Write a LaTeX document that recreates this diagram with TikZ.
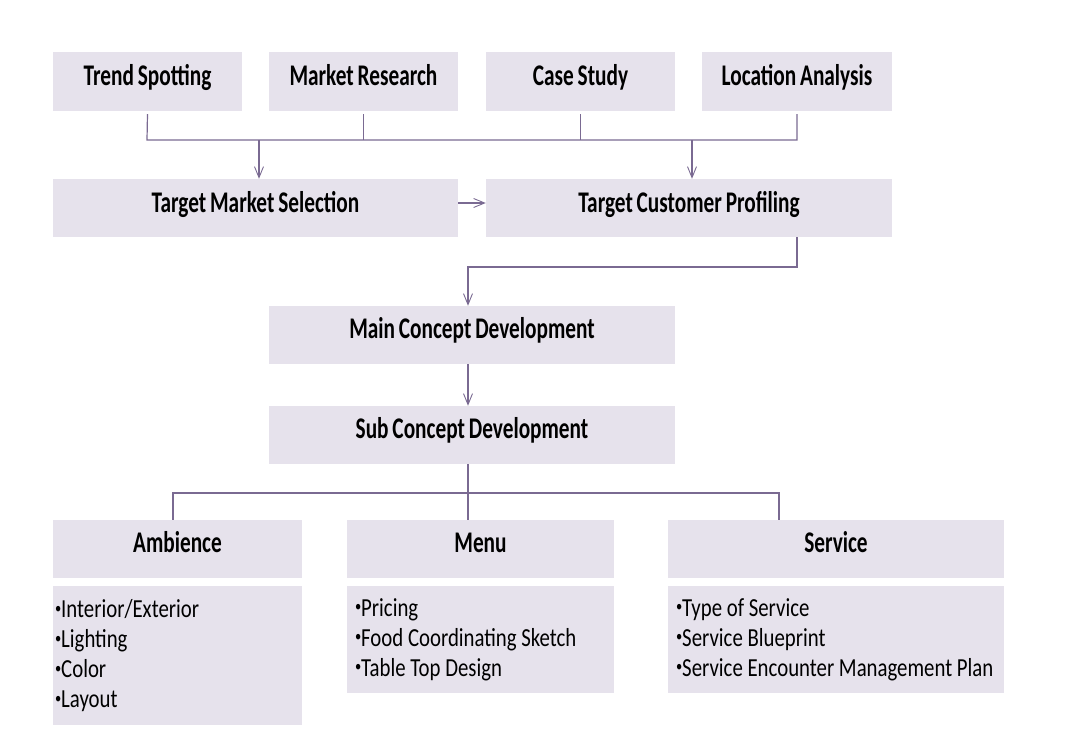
\documentclass[tikz,border=0pt]{standalone}
\usepackage{fontspec}
\usepackage{graphicx}
\setmainfont{Carlito}[FakeStretch=0.80]
\newfontfamily\hfont{Carlito}[FakeStretch=0.71, WordSpace=0.8]
\newcommand\mybul{\raisebox{0.17em}{\scalebox{0.6}{•}}}
\usetikzlibrary{arrows.meta}
\definecolor{boxfill}{RGB}{230,226,236}
\definecolor{linecol}{RGB}{122,106,146}
\tikzset{
  box/.style={fill=boxfill, draw=none, inner sep=0pt, text height=19pt, text depth=13pt,
    font=\hfont\bfseries\fontsize{30}{33}\selectfont},
  toprow/.style={text depth=10pt},
  secrow/.style={text depth=11pt},
  listbox/.style={fill=boxfill, draw=none, inner xsep=8pt, inner ysep=0pt, align=flush left,
    font=\fontsize{26}{30}\selectfont},
  conn/.style={draw=linecol, line width=1.2pt},
  arr/.style={conn, -{Straight Barb[length=11pt,width=9pt,line width=0.9pt]}}
}
\begin{document}
\begin{tikzpicture}[x=1pt,y=-1pt]
\useasboundingbox (0,0) rectangle (1080,749);
% top row
\node[box, toprow, minimum width=189pt, minimum height=59pt] (ts) at (147.5,81.5) {Trend Spotting};
\node[box, toprow, minimum width=189pt, minimum height=59pt] (mr) at (363.5,81.5) {Market Research};
\node[box, toprow, minimum width=189pt, minimum height=59pt] (cs) at (580.5,81.5) {Case Study};
\node[box, toprow, minimum width=190pt, minimum height=59pt] (la) at (797,81.5) {Location Analysis};
% second row
\node[box, secrow, minimum width=405pt, minimum height=58pt] (tms) at (255.5,208) {Target Market Selection};
\node[box, secrow, minimum width=406pt, minimum height=58pt] (tcp) at (689,208) {Target Customer Profiling};
% concept
\node[box, minimum width=406pt, minimum height=58pt] (mcd) at (472,335) {Main Concept Development};
\node[box, minimum width=406pt, minimum height=58pt] (scd) at (472,435) {Sub Concept Development};
% bottom
\node[box, minimum width=249pt, minimum height=58pt] (amb) at (177.5,549) {Ambience};
\node[box, minimum width=267pt, minimum height=58pt] (menu) at (480.5,549) {Menu};
\node[box, minimum width=336pt, minimum height=58pt] (serv) at (836,549) {Service};
\node[listbox, inner xsep=2pt, text width=245pt, minimum height=139pt] (ambl) at (177.5,655.5) {\mybul Interior/Exterior\\\mybul Lighting\\\mybul Color\\\mybul Layout};
\node[listbox, text width=251pt, minimum height=107pt] (menul) at (480.5,639.5) {\mybul Pricing\\\mybul Food Coordinating Sketch\\\mybul Table Top Design};
\node[listbox, text width=320pt, minimum height=107pt] (servl) at (836,639.5) {\mybul Type of Service\\\mybul Service Blueprint\\\mybul Service Encounter Management Plan};
% connectors top
\coordinate (h1) at (147,140);
\coordinate (h2) at (797,140);
\coordinate (j1) at (259,140);
\coordinate (j2) at (692,140);
\draw[conn] ([yshift=-3pt]ts.south) -- (h1) -- (h2) -- ([yshift=-3pt]la.south);
\draw[conn] ([yshift=-3pt]mr.south) -- (mr.south |- h1);
\draw[conn] ([yshift=-3pt]cs.south) -- (cs.south |- h1);
\draw[arr] (j1) -- (j1 |- tms.north);
\draw[arr] (j2) -- (j2 |- tcp.north);
\draw[arr] ([yshift=5pt]tms.east) -- ([yshift=5pt]tcp.west);
% tcp to mcd
\coordinate (k1) at (797,267);
\coordinate (k2) at (468,267);
\draw[arr] (k1 |- tcp.south) -- (k1) -- (k2) -- (k2 |- mcd.north);
\draw[arr] (k2 |- mcd.south) -- (k2 |- scd.north);
% scd to bottom
\coordinate (m1) at (468,493);
\coordinate (m2) at (173,493);
\coordinate (m3) at (779,493);
\draw[conn] (m1 |- scd.south) -- (m1) -- (m1 |- menu.north);
\draw[conn] (m2 |- amb.north) -- (m2) -- (m3) -- (m3 |- serv.north);
\end{tikzpicture}
\end{document}
